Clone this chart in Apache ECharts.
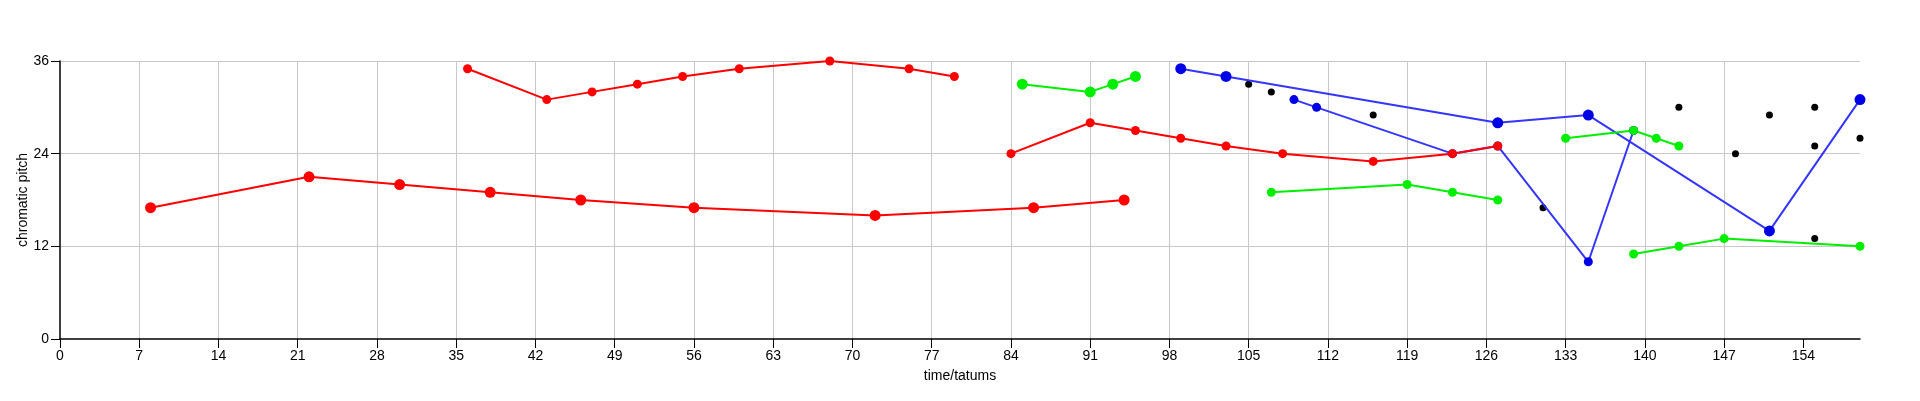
<!DOCTYPE html>
<html>
<head>
<meta charset="utf-8">
<script src="https://cdn.jsdelivr.net/npm/echarts@6/dist/echarts.min.js"></script>
<style>
  html, body { margin: 0; padding: 0; background: #fff; }
  #chart { width: 1920px; height: 401px; }
</style>
</head>
<body>
<div id="chart"></div>
<script>
// [time, pitch] pairs
var redLow = [[8, 17], [22, 21], [30, 20], [38, 19], [46, 18], [56, 17], [72, 16], [86, 17], [94, 18]];
var redTop = [[36, 35], [43, 31], [47, 32], [51, 33], [55, 34], [60, 35], [68, 36], [75, 35], [79, 34]];
var redMid = [[84, 24], [91, 28], [95, 27], [99, 26], [103, 25], [108, 24], [116, 23], [123, 24], [127, 25]];

var greenTop = [[85, 33], [91, 32], [93, 33], [95, 34]];
var greenMidLeft = [[107, 19], [119, 20], [123, 19], [127, 18]];
var greenMidRight = [[133, 26], [139, 27], [141, 26], [143, 25]];
var greenLow = [[139, 11], [143, 12], [147, 13], [159, 12]];

var blueA = [[99, 35], [103, 34], [127, 28], [135, 29], [151, 14], [159, 31]];
var blueB = [[109, 31], [111, 30], [123, 24], [127, 25], [135, 10], [139, 27]];

var blackDots = [[105, 33], [107, 32], [116, 29], [131, 17], [143, 30], [148, 24],
                 [151, 29], [155, 30], [155, 25], [155, 13], [159, 26]];

var xTicks = [0, 7, 14, 21, 28, 35, 42, 49, 56, 63, 70, 77, 84, 91, 98, 105, 112, 119, 126, 133, 140, 147, 154];
var yTicks = [0, 12, 24, 36];

var FONT = 'Liberation Sans';

function lineSeries(data, lineColor, dotColor, size) {
    return {
        type: 'line',
        data: data,
        symbol: 'circle',
        symbolSize: size,
        showAllSymbol: true,
        lineStyle: { color: lineColor, width: 2 },
        itemStyle: { color: dotColor, opacity: 1 },
        animation: false
    };
}

var myChart = echarts.init(document.getElementById('chart'));

var option = {
    backgroundColor: '#fff',
    grid: { left: 60, right: 60, top: 61, bottom: 62 },
    xAxis: {
        type: 'value',
        min: 0,
        max: 159,
        name: 'time/tatums',
        nameLocation: 'middle',
        nameGap: 30,
        nameMoveOverlap: false,
        nameTextStyle: { color: '#000', fontSize: 14, fontFamily: FONT },
        axisLine: { lineStyle: { color: '#000', width: 1.5 } },
        axisTick: { customValues: xTicks, length: 9, lineStyle: { color: '#000' } },
        axisLabel: { customValues: xTicks, color: '#000', fontSize: 14, fontFamily: FONT, margin: 10 },
        splitLine: { show: true, showMinLine: false, showMaxLine: false, lineStyle: { color: '#c8c8c8', width: 1 } },
        interval: 7
    },
    yAxis: {
        type: 'value',
        min: 0,
        max: 36,
        interval: 12,
        name: 'chromatic pitch',
        nameLocation: 'middle',
        nameGap: 30,
        nameMoveOverlap: false,
        nameRotate: 90,
        nameTextStyle: { color: '#000', fontSize: 14, fontFamily: FONT },
        axisLine: { show: true, lineStyle: { color: '#000', width: 1.5 } },
        axisTick: { show: true, customValues: yTicks, length: 9, lineStyle: { color: '#000' } },
        axisLabel: { customValues: yTicks, color: '#000', fontSize: 14, fontFamily: FONT, margin: 11 },
        splitLine: { show: true, showMinLine: false, lineStyle: { color: '#c8c8c8', width: 1 } }
    },
    series: [
        lineSeries(blueB, '#3535ff', '#0000e6', 9),
        lineSeries(blueA, '#3535ff', '#0000e6', 11),
        lineSeries(redLow, '#ff0000', '#ff0000', 11),
        lineSeries(redTop, '#ff0000', '#ff0000', 9),
        lineSeries(redMid, '#ff0000', '#ff0000', 9),
        lineSeries(greenTop, '#00ee00', '#00ee00', 11),
        lineSeries(greenMidLeft, '#00ee00', '#00ee00', 9),
        lineSeries(greenMidRight, '#00ee00', '#00ee00', 9),
        lineSeries(greenLow, '#00ee00', '#00ee00', 9),
        {
            type: 'scatter',
            data: blackDots,
            symbol: 'circle',
            symbolSize: 7,
            itemStyle: { color: '#000', opacity: 1 },
            animation: false
        }
    ]
};

myChart.setOption(option, true);
window.onresize = myChart.resize;
</script>
</body>
</html>
